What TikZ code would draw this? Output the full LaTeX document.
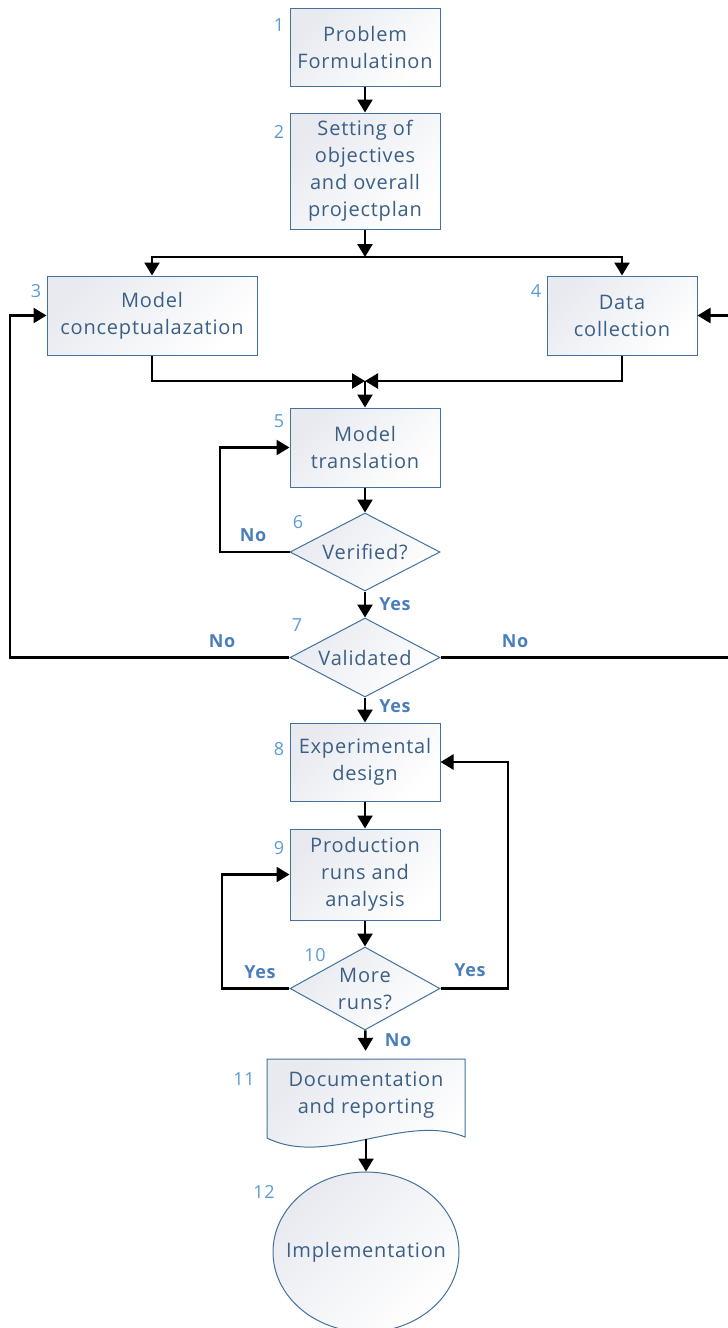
\documentclass[tikz,border=0pt]{standalone}
\usepackage{fontspec}
\setmainfont{Open Sans}[LetterSpace=4]
\usetikzlibrary{shapes.geometric,arrows.meta}
\definecolor{boxline}{HTML}{41719C}
\definecolor{boxtext}{HTML}{3B5F85}
\definecolor{numblue}{HTML}{5B9BD5}
\definecolor{ansblue}{HTML}{4A7EBB}
\definecolor{shadetop}{HTML}{E8EAF0}

\begin{document}
\begin{tikzpicture}[x=1pt, y=-1pt,
	every node/.style={font=\fontsize{20}{27}\selectfont, text=boxtext, align=center, inner sep=0pt},
	procbox/.style={draw=boxline, line width=1pt, rectangle, minimum width=150pt, minimum height=78pt, top color=shadetop, bottom color=white, shading angle=45},
	decision/.style={draw=boxline, line width=1pt, diamond, aspect=1.8, minimum width=150pt, minimum height=78pt, top color=shadetop, bottom color=white, shading angle=45},
	docfill/.style={draw=boxline, line width=1pt, top color=shadetop, bottom color=white, shading angle=45},
	terminal/.style={draw=boxline, line width=1pt, ellipse, inner xsep=-30pt, minimum width=186pt, minimum height=160pt, top color=shadetop, bottom color=white, shading angle=45},
	numlabel/.style={text=numblue, font=\fontsize{18}{20}\selectfont},
	answer/.style={text=ansblue, font=\fontsize{18}{20}\selectfont\bfseries},
	flow/.style={draw=black, line width=2.5pt, -{Triangle[length=13pt,width=15pt]}}]
	\path[use as bounding box, clip] (0,0) rectangle (728,1328);
	
	\node[procbox] (s1) at (365,47) {Problem\\Formulatinon};
	\node[procbox, minimum height=116pt] (s2) at (365,171) {Setting of\\objectives\\and overall\\projectplan};
	\node[procbox, minimum width=210pt, minimum height=79pt] (s3) at (152,315.5) {Model\\conceptualazation};
	\node[procbox, minimum height=79pt] (s4) at (622,315.5) {Data\\collection};
	\node[procbox, minimum height=79pt] (s5) at (365,447.5) {Model\\translation};
	\node[decision] (s6) at (365,552) {Verified?};
	\node[decision, minimum height=79pt] (s7) at (365,657.5) {Validated};
	\node[procbox] (s8) at (365,762) {Experimental\\design};
	\node[procbox, minimum height=91pt] (s9) at (365,874.5) {Production\\runs and\\analysis};
	\node[decision, minimum height=83pt] (s10) at (365,988.5) {More\\runs?};
	\path[docfill] (267,1059) -- (465,1059) -- (465,1137)
		.. controls (405,1112) and (327,1168) .. (267,1138) -- cycle;
	\node[minimum width=198pt, minimum height=88pt] (s11) at (366,1095) {Documentation\\and reporting};
	\node[terminal] (s12) at (366,1252) {Implementation};
	
	% step numbers
	\node[numlabel] (n1) at (279,25) {1};
	\node[numlabel] (n2) at (279,132) {2};
	\node[numlabel] (n3) at (36,291) {3};
	\node[numlabel] (n4) at (536,291) {4};
	\node[numlabel] (n5) at (279,421) {5};
	\node[numlabel] (n6) at (298,522) {6};
	\node[numlabel] (n7) at (297,625) {7};
	\node[numlabel] (n8) at (279,749) {8};
	\node[numlabel] (n9) at (279,848) {9};
	\node[numlabel] (n10) at (315,955) {10};
	\node[numlabel] (n11) at (244,1079) {11};
	\node[numlabel] (n12) at (264,1192) {12};
	
	\node[answer] (no6) at (253,535) {No};
	\node[answer] (yes6) at (395,604) {Yes};
	\node[answer] (no7l) at (222,641) {No};
	\node[answer] (no7r) at (515,641) {No};
	\node[answer] (yes7) at (395,706) {Yes};
	\node[answer] (yes10l) at (260,972) {Yes};
	\node[answer] (yes10r) at (470,970) {Yes};
	\node[answer] (no10) at (398,1040) {No};
	
	\coordinate (split) at (365,257);
	\coordinate (merge) at (365,381);
	\coordinate (c6) at (220,447.5);
	\coordinate (c7l) at (10,315.5);
	\coordinate (c7r) at (740,315.5);
	\coordinate (c10l) at (222,874.5);
	\coordinate (c10r) at (508,762);
	
	\path[flow] (s1) -- (s2);
	\path[flow] (s2) -- (split);
	\path[flow] (split) -| (s3);
	\path[flow] (split) -| (s4);
	\path[flow] (s3) |- (merge);
	\path[flow] (s4) |- (merge);
	\path[flow] (merge) -- (s5);
	\path[flow] (s5) -- (s6);
	\path[flow] (s6) -| (c6) -- (s5);
	\path[flow] (s6) -- (s7);
	\path[flow] (s7) -| (c7l) -- (s3);
	\path[flow] (s7) -| (c7r) -- (s4);
	\path[flow] (s7) -- (s8);
	\path[flow] (s8) -- (s9);
	\path[flow] (s9) -- (s10);
	\path[flow] (s10) -| (c10l) -- (s9);
	\path[flow] (s10) -| (c10r) -- (s8);
	\path[flow] (s10) -- (s11);
	\path[flow] (s11) -- (s12);
\end{tikzpicture}
\end{document}
